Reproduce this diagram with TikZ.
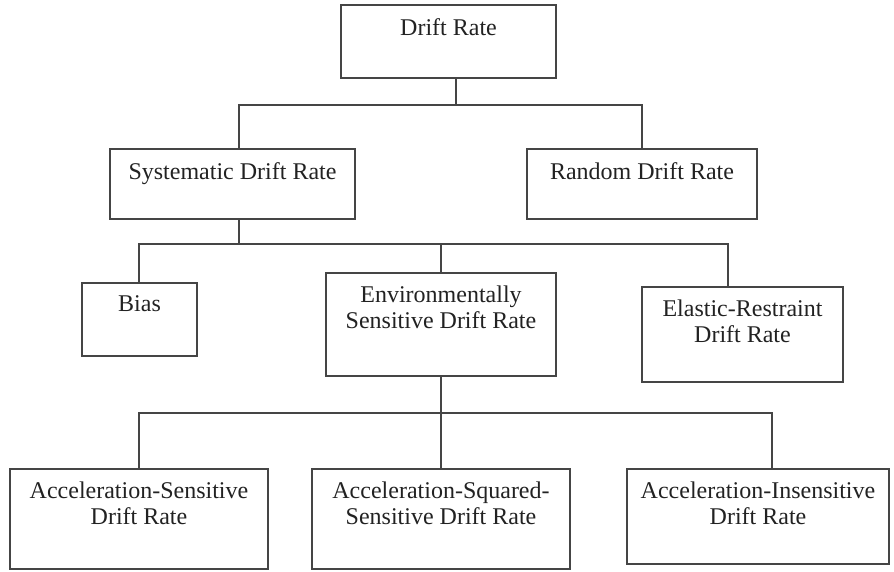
\documentclass[tikz,border=0pt]{standalone}
\usepackage{fontspec}
\setmainfont{Liberation Serif}
\begin{document}
\begin{tikzpicture}[x=1pt, y=-1pt,
  box/.style={draw=linegray, line width=1.4pt, rectangle, inner sep=0pt,
              minimum width=#1},
  boxtitle/.style={anchor=north, inner sep=0pt, yshift=-13.6pt, align=center,
                   text=textgray, font=\fontsize{24}{26}\selectfont},
  link/.style={draw=linegray, line width=1.4pt}]
\definecolor{linegray}{HTML}{454545}
\definecolor{textgray}{HTML}{222222}
\useasboundingbox (0,0) rectangle (894,571);

% level 0
\node[box=215pt, minimum height=73pt, label={[boxtitle]north:Drift Rate}] (drift) at (448.5,41.5) {};

% level 1
\node[box=245pt, minimum height=70pt, label={[boxtitle]north:Systematic Drift Rate}] (sys) at (232.5,184) {};
\node[box=230pt, minimum height=70pt, label={[boxtitle]north:Random Drift Rate}] (rand) at (642,184) {};

% level 2
\node[box=115pt, minimum height=73pt, label={[boxtitle]north:Bias}] (bias) at (139.5,319.5) {};
\node[box=230pt, minimum height=103pt, label={[boxtitle]north:Environmentally\\Sensitive Drift Rate}] (env) at (441,324.5) {};
\node[box=201pt, minimum height=95pt, label={[boxtitle]north:Elastic-Restraint\\Drift Rate}] (elastic) at (742.5,334.5) {};

% level 3
\node[box=258pt, minimum height=100pt, label={[boxtitle]north:Acceleration-Sensitive\\Drift Rate}] (accs) at (139,519) {};
\node[box=258pt, minimum height=100pt, label={[boxtitle]north:Acceleration-Squared-\\Sensitive Drift Rate}] (accsq) at (441,519) {};
\node[box=262pt, minimum height=95pt, label={[boxtitle]north:Acceleration-Insensitive\\Drift Rate}] (acci) at (758,516.5) {};

% branch points
\coordinate (j1) at (456,105);
\coordinate (s1) at (239,105);
\coordinate (r1) at (642,105);
\coordinate (j2) at (239,244);
\coordinate (b1) at (139,244);
\coordinate (e1) at (728,244);
\coordinate (a1) at (139,413);
\coordinate (i1) at (772,413);

% connectors
\draw[link] (drift.south -| j1) -- (j1);
\draw[link] (s1 |- sys.north) -- (s1) -- (r1) -- (r1 |- rand.north);

\draw[link] (sys.south -| j2) -- (j2);
\draw[link] (b1 |- bias.north) -- (b1) -- (e1) -- (e1 |- elastic.north);
\draw[link] (env.north) -- (env.north |- b1);

\draw[link] (env.south) -- (accsq.north);
\draw[link] (a1 |- accs.north) -- (a1) -- (i1) -- (i1 |- acci.north);
\end{tikzpicture}
\end{document}
